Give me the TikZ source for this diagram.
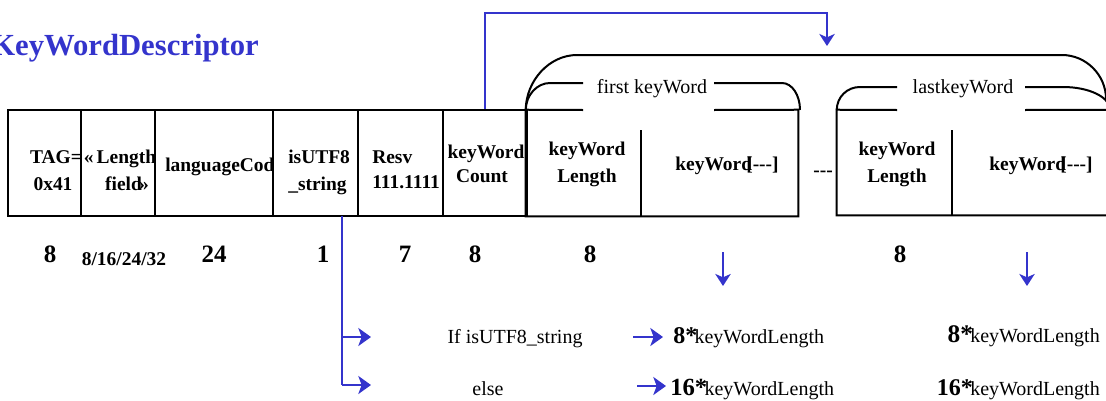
\documentclass[tikz,border=0pt]{standalone}
\usepackage{fontspec}
\setmainfont{Liberation Serif}
\usetikzlibrary{arrows.meta,fit}
\definecolor{kblue}{RGB}{52,52,204}
\begin{document}
\begin{tikzpicture}[x=0.75pt,y=-0.75pt,
  ln/.style={line width=1.5pt},
  fld/.style={draw, line width=1.5pt, inner sep=0pt},
  hid/.style={draw=none, inner sep=0pt},
  bx/.style={font=\bfseries\fontsize{14.6}{16}\selectfont, inner sep=0pt, anchor=base},
  bxw/.style={bx, anchor=base west},
  num/.style={font=\bfseries\fontsize{18.75}{20}\selectfont, inner sep=0pt, anchor=base},
  rg/.style={font=\fontsize{15}{17}\selectfont, inner sep=0pt, anchor=base},
  bl/.style={draw=kblue, line width=1.7pt},
  arr/.style={bl, -{Stealth[length=9.5pt,width=13.5pt,inset=2.5pt]}},
  darr/.style={bl, -{Stealth[length=9pt,width=11.5pt,inset=2.5pt]}}]
\useasboundingbox (0,0) rectangle (1106,400);
\clip (0,0) rectangle (1106,400);

% title
\node[font=\bfseries\fontsize{23}{25}\selectfont, text=kblue, inner sep=0pt, anchor=base east] (title) at (259,55) {KeyWordDescriptor};

% simple field boxes
\node[fld, fit={(8,110) (81,216)}] (tag) {};
\node[fld, fit={(81,110) (155,216)}] (len) {};
\node[fld, fit={(155,110) (273,216)}] (lang) {};
\node[fld, fit={(273,110) (358,216)}] (utf) {};
\node[fld, fit={(358,110) (443,216)}] (resv) {};
\node[fld, fit={(443,110) (527,216)}] (cnt) {};

% field texts
\node[bx] (tag1) at (56,163) {TAG=};
\node[bx] (tag2) at (53,190) {0x41};
\node[bx] (len1) at (120,163) {«\,Length};
\node[bx] (len2) at (127,190) {field\kern-0.15em»};
\begin{scope}
  \clip (155,110) rectangle (273,216);
  \node[bxw] (langt) at (165,171) {languageCode};
\end{scope}
\node[bxw] (utf1) at (288,163) {isUTF8};
\node[bxw] (utf2) at (288,190) {\_string};
\begin{scope}
  \clip (358,110) rectangle (443,216);
  \node[bxw] (resv1) at (372,163) {Resv};
  \node[bxw] (resv2) at (372,188) {111.1111};
\end{scope}
\node[bx] (cnt1) at (486,158) {keyWord};
\node[bx] (cnt2) at (482,182) {Count};

% keyword boxes
\node[hid, fit={(526,110) (798,216)}] (kw1) {};
\node[hid, fit={(837,110) (1112,215)}] (kw2) {};

\draw[ln] (583,110) -- (kw1.north west) -- (kw1.south west) -- (kw1.south east) -- (kw1.north east) -- (714,110);
\draw[ln] (641,130) -- (641,216);
\draw[ln] (897,110) -- (kw2.north west) -- (kw2.south west) -- (kw2.south east);
\draw[ln] (1025,110) -- (kw2.north east);
\draw[ln] (952,130) -- (952,215);

% brackets
\draw[ln] (kw1.north west) .. controls (526,81) and (549,55) .. (577,55) -- (1062,55) .. controls (1086,55) and (1106,75) .. (1106,99);
\draw[ln] (kw1.north west) .. controls (526,95) and (537,83) .. (550,83) -- (583,83);
\draw[ln] (714,83) -- (782,83) .. controls (792,83) and (800,95) .. (800,110);
\draw[ln] (kw2.north west) .. controls (837,97) and (847,87) .. (860,87) -- (897,87);
\draw[ln] (1025,87) -- (1063,87) .. controls (1089,87) and (1110,97) .. (1110,110);
\node[rg] (first) at (652,93) {first keyWord};
\node[rg] (last) at (963,93) {lastkeyWord};

% keyword texts
\node[bx] (kl1a) at (587,155) {keyWord};
\node[bx] (kl1b) at (587,182) {Length};
\node[bx] (kd1) at (727,170) {keyWord\kern-0.3em[-{}-{}-]};
\node[bx] (dots) at (823,176) {-{}-{}-};
\node[bx] (kl2a) at (897,155) {keyWord};
\node[bx] (kl2b) at (897,182) {Length};
\node[bx] (kd2) at (1041,170) {keyWord\kern-0.3em[-{}-{}-]};

% sizes
\node[num] (n1) at (50,262) {8};
\node[bx] (n2) at (124,265) {8/16/24/32};
\node[num] (n3) at (214,262) {24};
\node[num] (n4) at (323,262) {1};
\node[num] (n5) at (405,262) {7};
\node[num] (n6) at (475,262) {8};
\node[num] (n7) at (590,262) {8};
\node[num] (n8) at (900,262) {8};

% top blue connector
\coordinate (top) at (827,13);
\coordinate (tgt) at (827,46);
\draw[darr] (cnt.north) |- (top) -- (tgt);

% isUTF8 branch
\coordinate (ub) at (342,216);
\coordinate (b1) at (342,337);
\coordinate (b1e) at (371,337);
\coordinate (ue) at (342,385);
\coordinate (b2e) at (371,385);
\draw[bl] (ub) -- (ue);
\draw[arr] (b1) -- (b1e);
\draw[arr] (ue) -- (b2e);

% down arrows
\coordinate (d1) at (723,252);
\coordinate (d1e) at (723,286);
\coordinate (d2) at (1027,252);
\coordinate (d2e) at (1027,286);
\draw[darr] (d1) -- (d1e);
\draw[darr] (d2) -- (d2e);

% condition texts
\node[rg] (if1) at (515,343) {If isUTF8\_string};
\node[rg] (else1) at (488,395) {else};
\node[rg, anchor=base west] (m8) at (673,343) {{\bfseries\fontsize{18}{19}\selectfont 8*}\kern-2pt keyWordLength};
\node[rg, anchor=base west] (m16) at (670,395) {{\bfseries\fontsize{18.5}{20}\selectfont 16*}\kern-2pt keyWordLength};
\node[rg, anchor=base east] (r8) at (1100,342) {{\bfseries\fontsize{19}{20}\selectfont 8*}\kern-2pt keyWordLength};
\node[rg, anchor=base east] (r16) at (1100,395) {{\bfseries\fontsize{18}{20}\selectfont 16*}\kern-2pt keyWordLength};
\coordinate (a1) at (633,337);
\coordinate (a2) at (637,386);
\draw[arr, shorten >=7.5pt] (a1) -- (m8.west |- a1);
\draw[arr, shorten >=3pt] (a2) -- (m16.west |- a2);
\end{tikzpicture}
\end{document}
